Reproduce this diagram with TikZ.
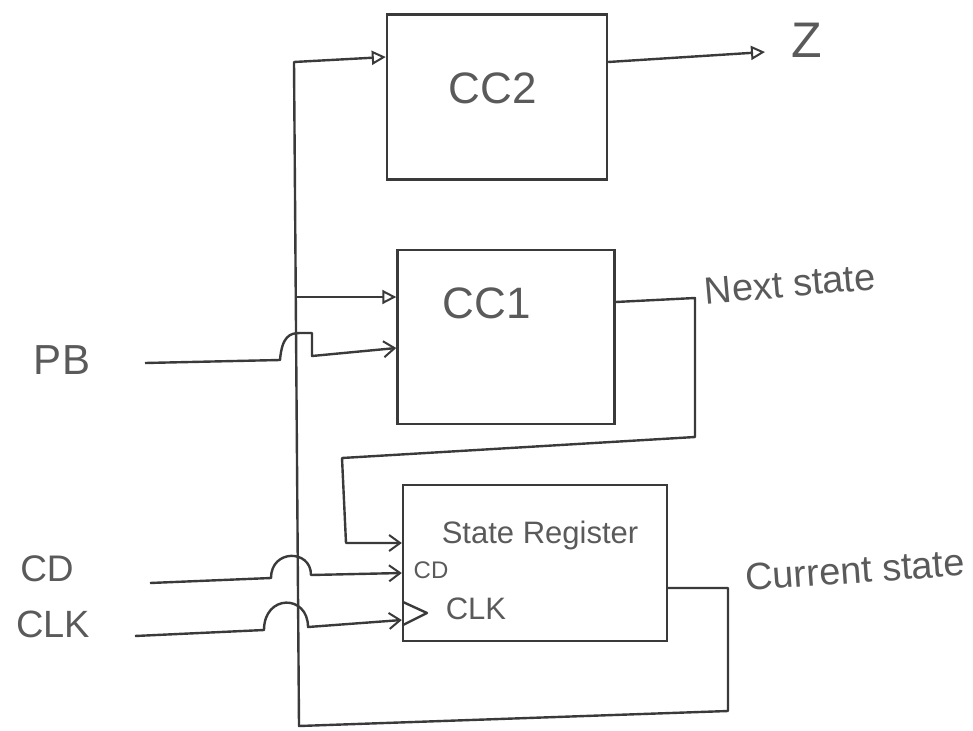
\documentclass[tikz,border=0pt]{standalone}
\usepackage{fontspec}
\setmainfont{Liberation Sans}
\usetikzlibrary{arrows.meta}
\definecolor{ink}{HTML}{3A3A3A}
\definecolor{txt}{HTML}{5A5A5A}
\tikzset{
  wire/.style={draw=ink, line width=2.4pt, line join=round},
  blockbox/.style={draw=ink, line width=2.4pt, fill=none, inner sep=0pt},
  tri/.style={-{Triangle[open, length=14pt, width=14pt, line width=2pt]}},
  arr/.style={-{Straight Barb[length=11pt, width=16pt, line width=2pt]}},
  lbl/.style={text=txt, inner sep=0pt, font=\fontsize{40}{42}\selectfont},
}
\begin{document}
\begin{tikzpicture}[x=1pt,y=-1pt]
\useasboundingbox (0,0) rectangle (973,730);
% blocks
\node[blockbox, minimum width=220pt, minimum height=165pt] (cc2) at (497,97) {};
\node[lbl, font=\fontsize{44}{46}\selectfont] (cc2t) at (493,88) {CC2};
\node[blockbox, minimum width=217pt, minimum height=174pt] (cc1) at (506,337) {};
\node[lbl, font=\fontsize{44}{46}\selectfont] (cc1t) at (487,303) {CC1};
\node[blockbox, minimum width=264pt, minimum height=156pt] (sr) at (535,563) {};
\node[lbl, font=\fontsize{31}{33}\selectfont] (srt) at (540,535) {State Register};
\node[lbl, font=\fontsize{24}{26}\selectfont] (cdi) at (431,570) {CD};
\node[lbl, font=\fontsize{31}{33}\selectfont] (clki) at (476,609) {CLK};
\draw[wire] (403,602) -- (427,613) -- (403,625);
% labels
\node[lbl, font=\fontsize{50}{52}\selectfont] (z) at (807,40) {Z};
\node[lbl, font=\fontsize{42}{44}\selectfont] (pb) at (62,360) {PB};
\node[lbl, font=\fontsize{37}{39}\selectfont] (cd) at (47,569) {CD};
\node[lbl, font=\fontsize{38}{40}\selectfont] (clk) at (53,624) {CLK};
\node[lbl, font=\fontsize{38}{40}\selectfont, rotate=5] (ns) at (790,284) {Next state};
\node[lbl, font=\fontsize{38}{40}\selectfont, rotate=4] (cs) at (855,570) {Current state};
% coordinates
\coordinate (pbs) at (145,363);
\coordinate (cds) at (150,583);
\coordinate (clks) at (135,636);
% CC2 output
\draw[wire, tri] (cc2.east |- 0,62) -- (765,52);
% bus / current state loop
\draw[wire, tri] (sr.east |- 0,588) -- (728,588) -- (728,711) -- (299,726) -- (294,62) -- (cc2.west |- 0,57);
\draw[wire, tri] (296,297) -- (cc1.west |- 0,297);
% next state loop
\draw[wire, arr] (cc1.east |- 0,302) -- (695,298) -- (695,437) -- (342,458) -- (346,543) -- (sr.west |- 0,543);
% PB
\draw[wire, arr] (pbs) -- (280,360) .. controls (282,336) and (290,333) .. (300,333) -- (312,333) -- (312,356) -- (cc1.west |- 0,348);
% CD
\draw[wire, arr] (cds) -- (271,578) .. controls (271,549) and (311,549) .. (311,575) -- (sr.west |- 0,573);
% CLK
\draw[wire, arr] (clks) -- (264,630) .. controls (264,594) and (308,594) .. (308,627) -- (sr.west |- 0,620);
\end{tikzpicture}
\end{document}
